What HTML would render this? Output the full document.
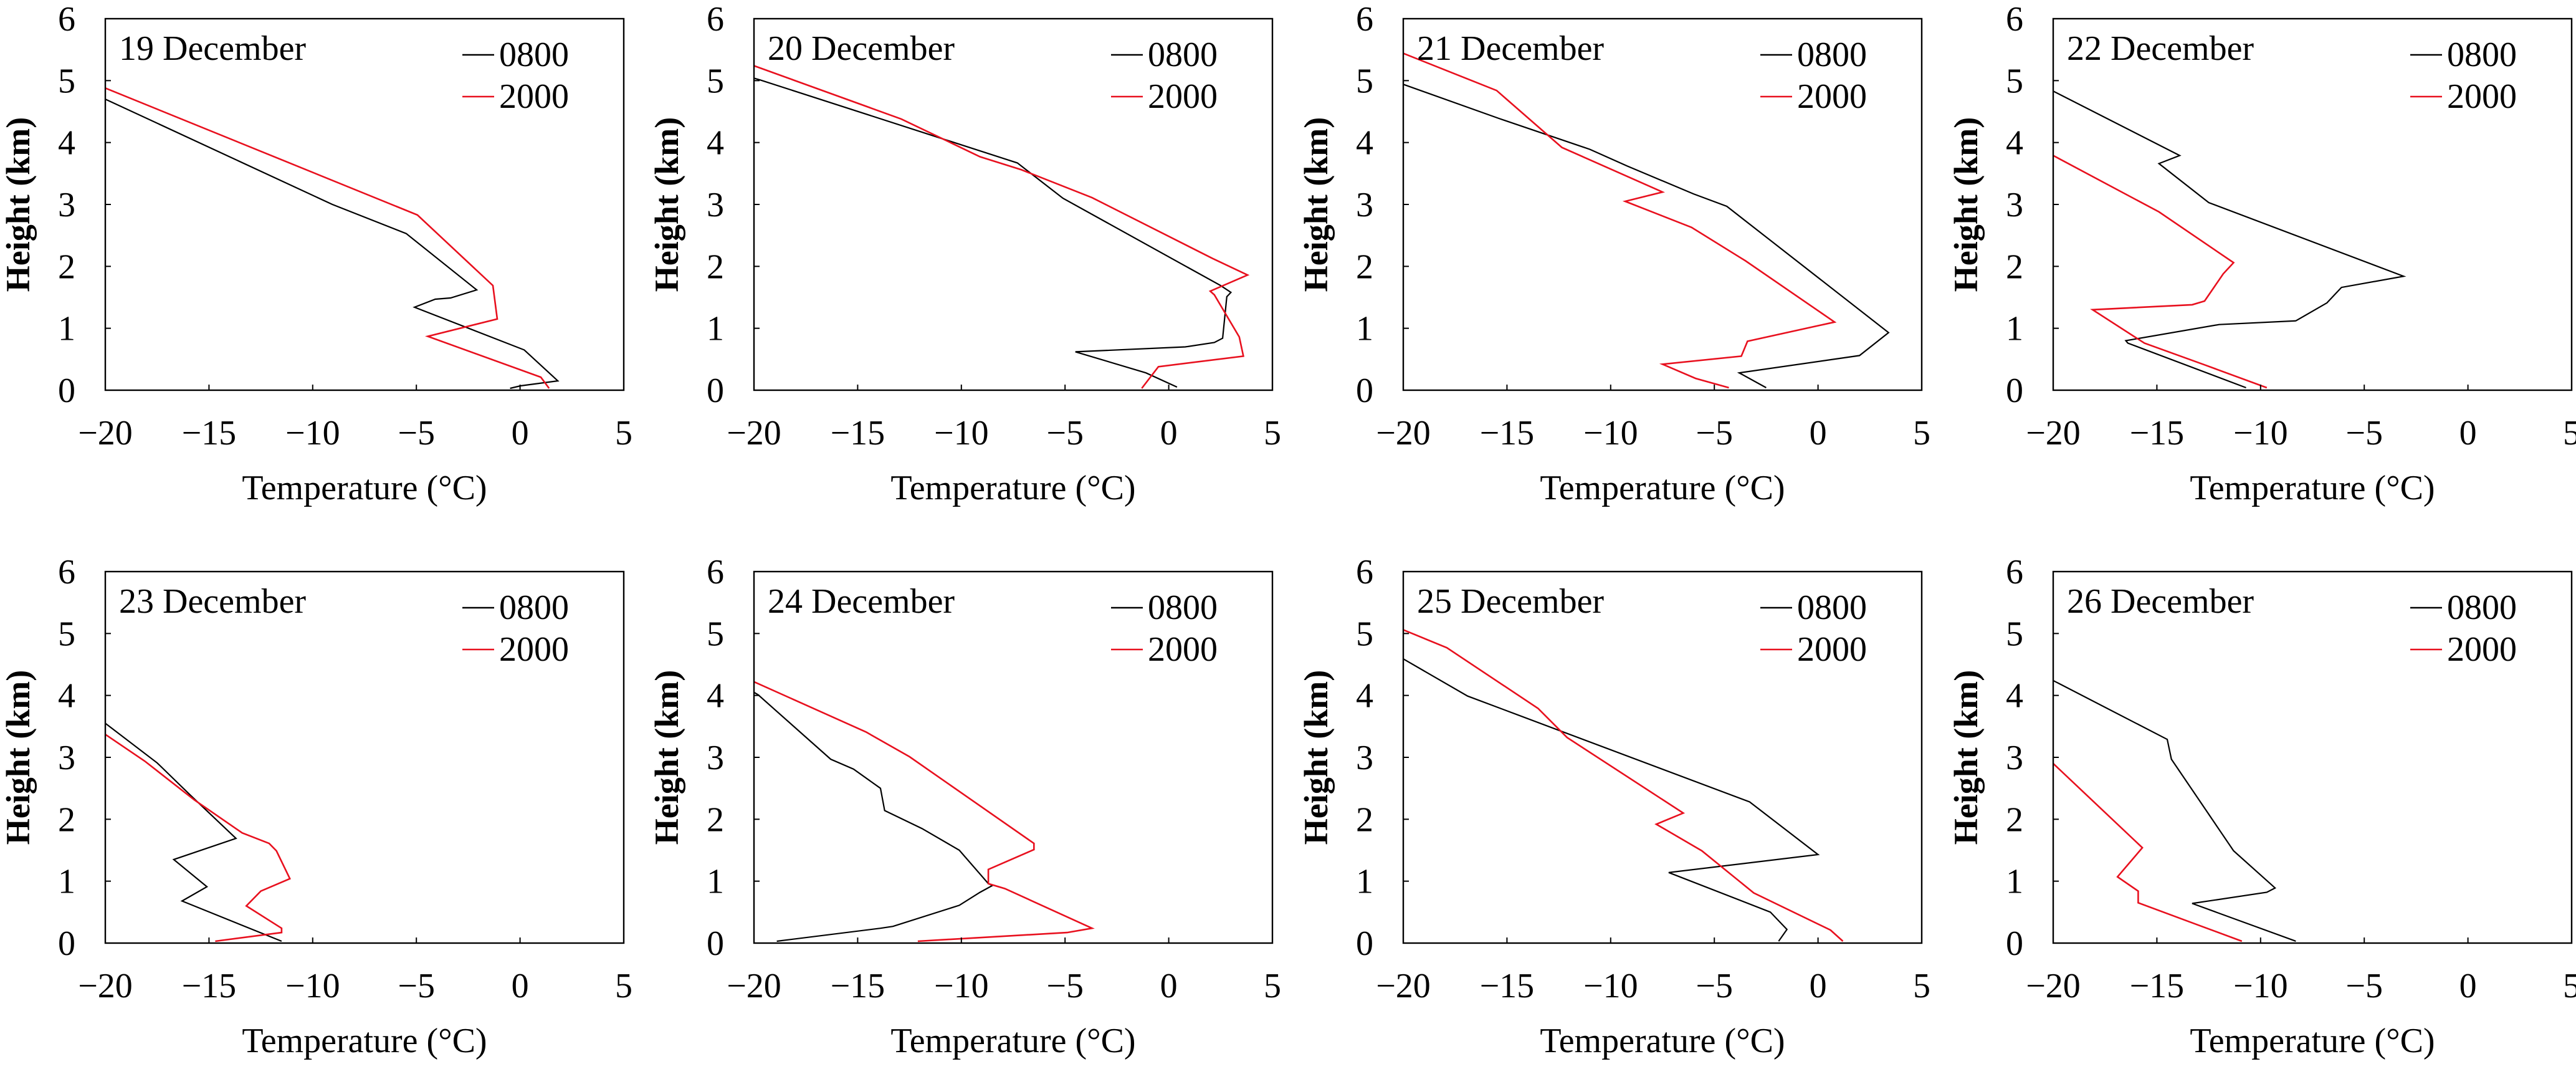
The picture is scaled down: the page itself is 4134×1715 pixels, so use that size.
<!DOCTYPE html>
<html><head><meta charset="utf-8"><style>
html,body{margin:0;padding:0;background:#fff;}
svg{display:block;font-family:"Liberation Serif","Times New Roman",serif;}
</style></head><body>
<svg id="fig" width="4134" height="1715" viewBox="0 0 4134 1715" xmlns="http://www.w3.org/2000/svg"></svg>
<script>
// ---- data (temperature °C, height km) ----
const days = ["19 December","20 December","21 December","22 December","23 December","24 December","25 December","26 December"];
const xTicks = [-20,-15,-10,-5,0,5];
const xTickLabels = ["\u221220","\u221215","\u221210","\u22125","0","5"];
const yTicks = [0,1,2,3,4,5,6];
const yTickLabels = ["0","1","2","3","4","5","6"];

const t19a = [-20,-9.05,-5.49,-2.09,-3.35,-4.09,-5.09,0.2,1.82,0.02,-0.48];
const h19a = [4.70,3.00,2.53,1.62,1.49,1.47,1.34,0.65,0.15,0.07,0.03];
const t19b = [-20,-4.95,-1.31,-1.10,-4.45,1.0,1.4];
const h19b = [4.88,2.83,1.69,1.15,0.87,0.21,0.03];

const t20a = [-20,-19.7,-7.3,-5.1,2.5,3.0,2.8,2.6,2.2,0.8,-4.5,-1.1,0.4];
const h20a = [5.04,5.01,3.67,3.10,1.69,1.58,1.51,0.84,0.77,0.70,0.62,0.28,0.05];
const t20b = [-20,-12.9,-9.1,-7.1,-3.7,2.1,3.8,2.0,2.2,3.4,3.6,-0.5,-1.3];
const h20b = [5.24,4.38,3.77,3.56,3.11,2.13,1.86,1.60,1.54,0.86,0.55,0.38,0.03];

const t21a = [-20,-15.4,-11.0,-9.2,-6.0,-4.4,3.4,2.0,-3.8,-2.5];
const h21a = [4.94,4.39,3.89,3.62,3.17,2.97,0.93,0.56,0.28,0.04];
const t21b = [-20,-15.5,-12.35,-7.5,-9.3,-6.1,-3.5,0.8,-3.4,-3.7,-7.5,-5.9,-4.3];
const h21b = [5.44,4.84,3.92,3.20,3.05,2.63,2.09,1.10,0.79,0.55,0.42,0.19,0.04];

const t22a = [-20,-13.9,-14.9,-12.5,-3.1,-6.1,-6.8,-8.3,-12.0,-16.5,-16.4,-10.7];
const h22a = [4.83,3.79,3.66,3.03,1.84,1.66,1.41,1.12,1.06,0.80,0.76,0.04];
const t22b = [-20,-14.9,-11.3,-11.8,-12.7,-13.3,-18.1,-15.6,-12.7,-9.7];
const h22b = [3.79,2.88,2.06,1.88,1.44,1.38,1.30,0.76,0.41,0.04];

const t23a = [-20,-17.5,-15.9,-13.7,-16.7,-15.1,-16.3,-11.5];
const h23a = [3.55,2.91,2.39,1.69,1.35,0.91,0.68,0.03];
const t23b = [-20,-18.1,-15.7,-13.4,-12.1,-11.75,-11.1,-12.5,-13.2,-11.5,-11.5,-14.7];
const h23b = [3.37,2.94,2.31,1.78,1.61,1.49,1.04,0.84,0.60,0.24,0.17,0.03];

const t24a = [-20,-19.8,-16.3,-15.2,-13.9,-13.7,-11.9,-10.1,-8.7,-8.5,-9.1,-10.1,-13.3,-13.9,-18.9];
const h24a = [4.05,4.01,2.97,2.81,2.50,2.14,1.85,1.50,0.96,0.93,0.82,0.61,0.27,0.24,0.03];
const t24b = [-20,-14.6,-12.5,-6.5,-6.5,-8.7,-8.7,-7.9,-3.7,-4.9,-12.1];
const h24b = [4.22,3.41,3.01,1.61,1.51,1.19,0.96,0.88,0.24,0.17,0.03];

const t25a = [-20,-16.9,-3.3,0.0,-7.2,-2.3,-1.5,-1.9];
const h25a = [4.59,3.99,2.28,1.43,1.14,0.50,0.22,0.03];
const t25b = [-20,-17.9,-13.5,-12.1,-6.5,-7.8,-5.6,-3.1,0.6,1.2];
const h25b = [5.06,4.77,3.79,3.32,2.10,1.92,1.49,0.81,0.21,0.03];

const t26a = [-20,-14.5,-14.3,-11.3,-9.3,-9.7,-13.3,-8.3];
const h26a = [4.24,3.29,2.97,1.49,0.89,0.82,0.64,0.03];
const t26b = [-20,-15.7,-16.9,-15.9,-15.9,-13.0,-10.9];
const h26b = [2.90,1.54,1.07,0.84,0.65,0.29,0.03];

const tempMorning = [t19a,t20a,t21a,t22a,t23a,t24a,t25a,t26a];
const heightMorning = [h19a,h20a,h21a,h22a,h23a,h24a,h25a,h26a];
const tempEvening = [t19b,t20b,t21b,t22b,t23b,t24b,t25b,t26b];
const heightEvening = [h19b,h20b,h21b,h22b,h23b,h24b,h25b,h26b];

// ---- layout ----
const NS = "http://www.w3.org/2000/svg";
const svg = document.getElementById("fig");
const lefts = [169,1210,2252,3295];
const tops = [30,917];
const PW = 832, PH = 596;
const XMIN = -20, XMAX = 5, YMIN = 0, YMAX = 6;

function mk(tag, attrs, parent){
  const e = document.createElementNS(NS, tag);
  for (const k in attrs) e.setAttribute(k, attrs[k]);
  (parent||svg).appendChild(e);
  return e;
}

for (let i = 0; i < 8; i++){
  const L = lefts[i % 4], T = tops[Math.floor(i / 4)];
  const xs = v => L + (v - XMIN) / (XMAX - XMIN) * PW;
  const ys = v => T + PH - (v - YMIN) / (YMAX - YMIN) * PH;

  const g = mk("g", {});
  
  

  // series
  const series = [[tempMorning[i], heightMorning[i], "#000", 2.2, "series-0800"],
                  [tempEvening[i], heightEvening[i], "#e8101e", 2.6, "series-2000"]];
  series.forEach(s => {
    const pts = s[0].map((t, k) => xs(t).toFixed(1) + "," + ys(s[1][k]).toFixed(1)).join(" ");
    const pl = mk("polyline", {points: pts, fill: "none", stroke: s[2], "stroke-width": s[3], "stroke-linejoin": "miter"}, g);
    
    
  });

  // plot frame
  const fr = mk("rect", {x: L, y: T, width: PW, height: PH, fill: "none", stroke: "#000", "stroke-width": 2.4}, g);
  
  

  // x ticks & labels
  xTicks.forEach((v, k) => {
    if (v > XMIN && v < XMAX) mk("line", {x1: xs(v), x2: xs(v), y1: T + PH, y2: T + PH - 9, stroke: "#000", "stroke-width": 2}, g);
    const tx = mk("text", {x: xs(v), y: T + PH + 87, "font-size": 56, "text-anchor": "middle"}, g);
    tx.textContent = xTickLabels[k];
    
    
  });
  // y ticks & labels
  yTicks.forEach((v, k) => {
    if (v > YMIN && v < YMAX) mk("line", {x1: L, x2: L + 9, y1: ys(v), y2: ys(v), stroke: "#000", "stroke-width": 2}, g);
    const ty = mk("text", {x: L - 48, y: ys(v) + 19, "font-size": 56, "text-anchor": "end"}, g);
    ty.textContent = yTickLabels[k];
    
    
  });

  // axis titles
  const xt = mk("text", {x: L + PW / 2, y: T + PH + 175, "font-size": 56, "text-anchor": "middle"}, g);
  xt.textContent = "Temperature (\u00B0C)";
  
  
  const cx = L - 122, cy = T + PH / 2;
  const yt = mk("text", {x: cx, y: cy, "font-size": 54, "font-weight": "bold", "text-anchor": "middle", transform: "rotate(-90 " + cx + " " + cy + ")"}, g);
  yt.textContent = "Height (km)";
  
  

  // panel title
  const pt = mk("text", {x: L + 22, y: T + 66, "font-size": 56}, g);
  pt.textContent = days[i];
  
  

  // legend
  const legendNames = ["0800", "2000"], legendColors = ["#000", "#e8101e"];
  legendNames.forEach((n, k) => {
    const lg = mk("g", {}, g);
    
    
    const ly = T + 58 + k * 67;
    mk("line", {x1: L + 573, x2: L + 624, y1: ly, y2: ly, stroke: legendColors[k], "stroke-width": 2.4}, lg);
    const lt = mk("text", {x: L + 632, y: T + 76 + k * 67, "font-size": 56}, lg);
    lt.textContent = n;
  });
}
</script>
</body></html>
